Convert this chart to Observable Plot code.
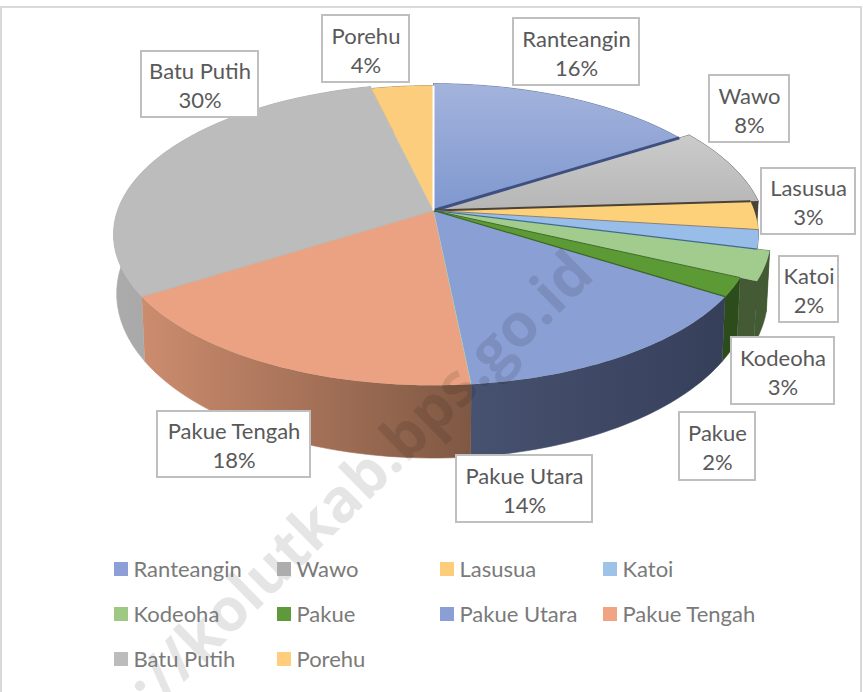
<!DOCTYPE html>
<html><head><meta charset="utf-8">
<style>html,body{margin:0;padding:0;background:#fff}svg{display:block}</style>
<script src="https://cdn.jsdelivr.net/npm/d3@7"></script>
<script src="https://cdn.jsdelivr.net/npm/@observablehq/plot@0.6"></script>
</head><body><script>
// Data
const names  = ["Ranteangin","Wawo","Lasusua","Katoi","Kodeoha","Pakue","Pakue Utara","Pakue Tengah","Batu Putih","Porehu"];
const shares = [16,8,3,2,3,2,14.4,17.6,30.3,3.7];
const swatch = ["#8ca0d7","#adadad","#fdcd7c","#9dc3e6","#9dc985","#5f9a3a","#8a9fd6","#f0a482","#bcbcbc","#ffcd7c"];
const topFill = ["url(#gTop)","url(#gWawo)","#fdd07a","#98bde8","#a2cc8e","#5c9a35","#8a9fd3","#eba282","#bcbcbc","#fccd7d"];
const sideFill = ["#44557f","#4a4238","#8a6a30","#3f5f80","#435a35","#2d4c1b","url(#gUtara)","url(#gTengah)","url(#gBatu)","#8a7040"];
const pop = [1,1.04,1.015,1.015,1.055,1,1,1,1,0.985];

// Layout of the label boxes [left, top, right, bottom] and the legend cells
const boxes = [[513,18,639,85],[709,75,789,142],[761,168,855,234],[779,256,838,322],[731,337,834,404],
  [679,412,755,480],[456,455,592,522],[157,411,310,477],[141,51,258,117],[322,15,409,82]];
const legendX = [114,277,440,603], legendY = [569,614,659];
const legendOrder = [[0,0],[1,0],[2,0],[3,0],[0,1],[1,1],[2,1],[3,1],[0,2],[1,2]];

// Perspective view of the pie
const C = {x:433, y:210, k:0.159, A:147, B:316, s:0.99, sy:1.09, D:57};
const rim = (pct, p=1) => {
  const t = pct/100*2*Math.PI, d = 1 + C.k*Math.cos(t);
  return {x: C.x + p*C.B*Math.sin(t)/d, y: C.y - p*C.A*Math.cos(t)/d};
};
const low = q => ({x: C.x + (q.x-C.x)*C.s, y: C.y + (q.y-C.y)*C.sy + C.D});
const arc = (a,b,p) => d3.range(0,41).map(i => rim(a+(b-a)*i/40,p));

const ends = d3.cumsum(shares), starts = [0,...ends.slice(0,-1)];

const walls = [], cuts = [], tops = [], seps = [];
names.forEach((n,i)=>{
  const a = starts[i], b = ends[i], p = pop[i], pts = arc(a,b,p);
  walls.push(Plot.line([...pts,...pts.map(low).reverse()],{x:"x",y:"y",fill:sideFill[i],stroke:sideFill[i],strokeWidth:0.6}));
  const j = (i+1)%names.length;
  if (p !== pop[j]) {
    const q1 = rim(b,p), q2 = rim(b,pop[j]), f = sideFill[p>pop[j]?i:j];
    cuts.push(Plot.line([q1,q2,low(q2),low(q1)],{x:"x",y:"y",fill:f,stroke:f,strokeWidth:0.6}));
  }
  tops.push(Plot.line([{x:C.x,y:C.y},...pts],{x:"x",y:"y",fill:topFill[i],stroke:"none"}));
});
// slice edges
const sepStyle = [["#3f5080",3],["#4a4238",2],["#8a8070",1],["#3f6a90",1.2],["#3d6b2a",1],["#3a6420",1.2],["#9cb",0.6],["#b5b8b0",1],["#e0c890",0.8],["#ffffff",2]];
names.forEach((n,i)=>{
  const q = rim(ends[i],Math.min(pop[i],pop[(i+1)%10]));
  seps.push(Plot.line([{x:C.x,y:C.y},q],{x:"x",y:"y",stroke:sepStyle[i][0],strokeWidth:sepStyle[i][1],strokeLinecap:"butt"}));
});

const defs = () => {
  const svg = d3.create("svg:defs");
  const grad = (id,x2,y2,c1,c2) => {
    const g = svg.append("linearGradient").attr("id",id).attr("x1",0).attr("y1",0).attr("x2",x2).attr("y2",y2);
    g.append("stop").attr("offset","0%").attr("stop-color",c1);
    g.append("stop").attr("offset","100%").attr("stop-color",c2);
  };
  grad("gTop",0,1,"#a3b3dc","#7f98cf");
  grad("gWawo",0,1,"#cbcbcb","#b6b6b6");
  grad("gTengah",1,0,"#cc8c6e","#7f5843");
  grad("gUtara",1,0,"#475270","#363f5a");
  grad("gBatu",1,0,"#ababab","#9c9c9c");
  return svg.node();
};

const boxData = boxes.map((b,i)=>({x1:b[0],y1:b[1],x2:b[2],y2:b[3],
  cx:(b[0]+b[2])/2, cy:(b[1]+b[3])/2, t:`${names[i]}\n${Math.round(shares[i])}%`}));
const legendData = names.map((n,i)=>({n, c:swatch[i],
  x:legendX[legendOrder[i][0]], y:legendY[legendOrder[i][1]]}));
const font = "Lato, 'Open Sans', sans-serif";

const chart = Plot.plot({
  width:863, height:692, margin:0,
  x:{domain:[0,863],range:[0,863],axis:null},
  y:{domain:[0,692],range:[0,692],axis:null},
  style:{background:"#fff",overflow:"hidden"},
  marks:[
    defs,
    // chart frame
    Plot.rect([{x1:1,x2:861,y1:7,y2:700}],{x1:"x1",x2:"x2",y1:"y1",y2:"y2",fill:"none",stroke:"#d9d9d9",strokeWidth:2}),
    ...walls, ...cuts, ...tops, ...seps,
    // watermark
    Plot.text(["http://kolutkab.bps.go.id"],{frameAnchor:"top-left",dx:566,dy:246,text:d=>d,rotate:-44.5,textAnchor:"end",
      fontSize:60,fontWeight:700,fontFamily:"'Open Sans', sans-serif",fill:"#000",fillOpacity:0.1}),
    // label boxes
    Plot.rect(boxData,{x1:"x1",x2:"x2",y1:"y1",y2:"y2",fill:"#fff",stroke:"#bfbfbf",strokeWidth:2}),
    Plot.text(boxData,{x:"cx",y:"cy",text:"t",fontSize:22,lineHeight:1.32,fontFamily:font,fill:"#595959"}),
    // legend
    Plot.rect(legendData,{x1:"x",x2:d=>d.x+14,y1:d=>d.y-7,y2:d=>d.y+7,fill:"c"}),
    Plot.text(legendData,{x:d=>d.x+19,y:"y",text:"n",textAnchor:"start",fontSize:22,fontFamily:font,fill:"#7a7a7a"})
  ],
  color:{type:"identity"}
});
document.body.appendChild(chart);
</script></body></html>
